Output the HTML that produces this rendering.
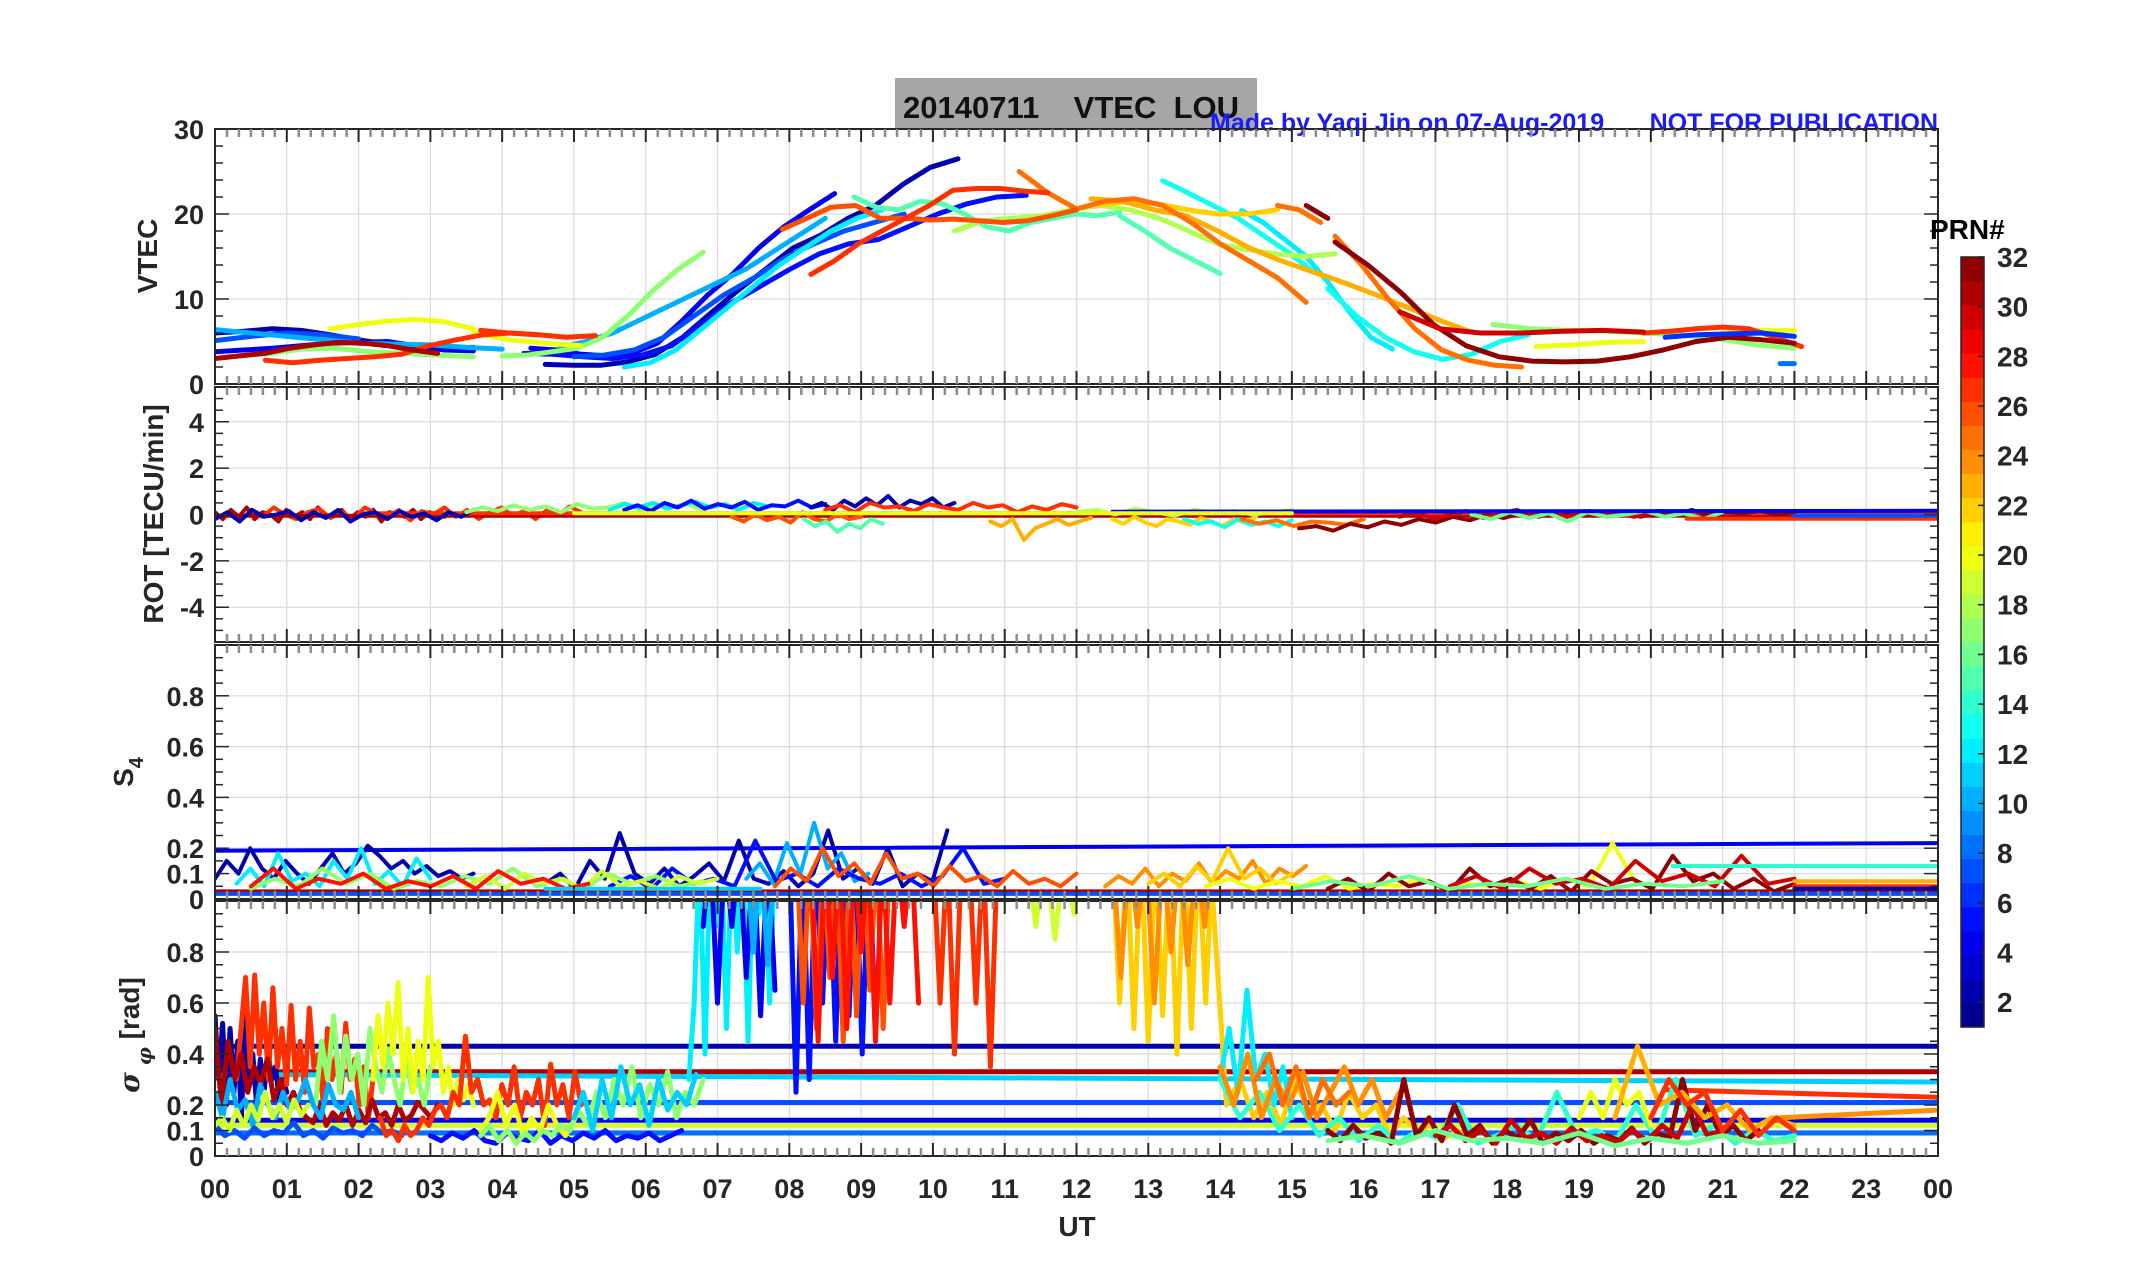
<!DOCTYPE html>
<html><head><meta charset="utf-8"><title>20140711 VTEC LOU</title>
<style>
html,body{margin:0;padding:0;background:#fff;}
svg{display:block;font-family:"Liberation Sans Narrow","Liberation Sans",sans-serif;}
.tk{font-weight:bold;font-size:27px;fill:#262626;}
.ttl{font-weight:bold;font-size:28px;fill:#262626;font-family:"Liberation Sans",sans-serif;}
.cb{font-weight:bold;font-size:28px;fill:#262626;font-family:"Liberation Sans",sans-serif;}
</style></head><body>
<svg id="fig" width="2153" height="1286" viewBox="0 0 2153 1286" xmlns="http://www.w3.org/2000/svg">
<rect x="0" y="0" width="2153" height="1286" fill="#fff"/>
<rect x="895" y="78" width="362" height="52" fill="#a6a6a6"/>
<text x="903" y="118" style="font-weight:bold;font-size:31px;fill:#111;font-family:'Liberation Sans',sans-serif;white-space:pre" xml:space="preserve">20140711    VTEC  LOU</text>
<text x="1210" y="131" style="font-weight:bold;font-size:25px;fill:#1a1aff;font-family:'Liberation Sans',sans-serif">Made by Yaqi Jin on 07-Aug-2019</text>
<text x="1938" y="131" text-anchor="end" style="font-weight:bold;font-size:25px;fill:#1a1aff;font-family:'Liberation Sans',sans-serif">NOT FOR PUBLICATION</text>
<g id="plots"></g>
<text class="ttl" transform="translate(157,256) rotate(-90)" text-anchor="middle">VTEC</text>
<text class="ttl" transform="translate(163,514) rotate(-90)" text-anchor="middle">ROT [TECU/min]</text>
<text class="ttl" transform="translate(133,772) rotate(-90)" text-anchor="middle">S<tspan font-size="20" dy="10">4</tspan></text>
<text class="ttl" transform="translate(139,1035) rotate(-90)" text-anchor="middle"><tspan font-family="'DejaVu Serif',serif" font-style="italic">σ</tspan><tspan font-size="20" dy="12" font-family="'DejaVu Serif',serif" font-style="italic"> φ</tspan><tspan dy="-12"> [rad]</tspan></text>
<text class="ttl" x="1077" y="1236" text-anchor="middle">UT</text>
<text class="cb" x="1930" y="239" style="font-size:28px;fill:#000">PRN#</text>
<g id="cbar"></g>
</svg>
<script>
// ---------- data ----------
const xTickLabels=["00","01","02","03","04","05","06","07","08","09","10","11","12","13","14","15","16","17","18","19","20","21","22","23","00"];
const cbTickLabels=[2,4,6,8,10,12,14,16,18,20,22,24,26,28,30,32];
const vtecTicks=[0,10,20,30];
const rotTicks=[-4,-2,0,2,4];
const s4Ticks=[0,0.1,0.2,0.4,0.6,0.8];
const sigTicks=[0,0.1,0.2,0.4,0.6,0.8];

const vtecPrn=[2,2,4,4,5,7,7,10,10,12,12,13,13,15,15,17,17,17,18,20,20,20,20,22,23,25,25,25,26,27,27,27,27,31,32,32,30,6,8];
const vtecStart=[0,4.6,0,4.4,4.3,0,5.0,0,4.8,5.7,14.3,13.2,15.5,8.9,12.6,0.7,4.0,17.8,10.3,1.6,3.6,18.4,21.0,12.3,12.2,11.2,14.8,15.6,7.9,0.7,3.7,8.3,19.9,0,15.2,15.6,16.5,20.2,21.8];
const vtecEnd=[3.6,10.35,3.6,8.63,11.3,2.0,9.6,4.0,8.5,9.3,16.4,15.3,18.3,12.6,14.0,3.6,6.8,22.0,15.6,3.6,5.1,19.9,22.0,14.8,17.5,15.2,15.4,18.2,12.0,4.5,5.3,11.6,22.1,3.1,15.5,22.0,19.9,22.0,22.0];
const vtecVals=[
[6.0,6.2,6.5,6.3,5.8,5.2,4.7,4.3,4.2,4.3],
[2.3,2.2,2.2,2.6,3.5,5.5,8.3,11,13.5,16,17.5,19.5,21,23.5,25.5,26.5],
[3.8,4.0,4.2,4.5,4.8,4.9,5.0,4.5,4.0,3.9],
[4.2,4.0,3.5,3.3,3.6,4.8,7.5,10.5,13,16,18.5,20.5,22.4],
[3.6,3.5,3.2,3.0,3.4,4.5,7,9.5,11.5,13.5,15.3,16.5,17,18.5,20,21.2,22,22.2],
[5.1,5.6,6.0,5.8,5.3],
[3.2,3.4,4.0,5.5,8,10.5,12.5,14.8,16.5,18,19,20],
[6.4,6.0,5.6,5.2,4.8,4.7,4.6,4.3,4.1],
[4.3,5.0,6.0,7.5,9,10.5,12,13.5,15.5,17.5,19.5],
[2.0,2.5,4,6.5,9,11.5,14,16,18,19.5,20.5],
[20.4,19,17,15,12,8.5,5.5,4.1],
[23.9,22.5,21,19.5,17.5,15.5,13.2],
[11.2,8,5.5,3.8,2.9,3.5,5,5.8],
[22,20.8,20.5,21.5,21.2,20,18.5,18,19,19.5,20,19.8,20.2],
[19.8,18,16,14.5,13],
[3.5,4.1,4.2,3.8,3.6,3.4,3.2],
[3.3,3.4,3.8,4.2,5.5,8,11,13.5,15.5],
[7,6.5,6.3,6.2,6.0,5.8,5.3,4.6,4.2],
[18,19.2,19.5,19.8,20.5,21,20.5,19.5,18,16.5,15.8,15.3,15,15.3],
[6.5,7.0,7.4,7.6,7.3,6.5],
[6.0,5.2,4.8,4.5],
[4.4,4.6,4.9,5.0],
[6,6.3,6.3],
[21,21.5,21.2,20.5,20,20,20.5],
[21.8,21.5,20.5,19.8,18,16,14.5,13.2,11.9,10.5,9,7.5,6.1],
[25,22.5,20.6,21.5,21.8,21,19,16.5,14.5,12.5,9.6],
[21,20.5,19],
[17.4,14,10,6.5,4,2.8,2.2,2.0],
[18.2,19.5,20.8,21,19.5,19.5,19.3,19.4,19.2,19.0,19.2,19.8,20.5],
[2.8,2.5,2.8,3.0,3.2,3.5,4.5,5.2,5.8,6,5.8],
[6.3,6.0,5.8,5.5,5.7],
[12.9,14.5,16.5,18,19.5,21,22.8,23,23,22.7,22.5],
[6,6.2,6.5,6.7,6.5,5.5,4.4],
[3.0,3.3,3.6,4.2,4.6,4.9,4.8,4.5,4.0,3.6],
[21,19.5],
[16.7,14,10.8,7,4.5,3.2,2.7,2.6,2.7,3.2,4,5,5.5,5.2,4.8],
[8.5,6.5,6,6,6.2,6.3,6.1],
[5.5,5.8,5.9,6.0,5.6],
[2.4,2.4]
];

const rotPrn=[31,27,31,27,2,17,12,5,2,26,15,27,23,22,13,25,32,30,16,18,4,20,27,7];
const rotStart=[0,0.5,0,2,0,3.5,5.5,5.7,8.3,7.2,8.2,8.5,10.8,12.5,13.5,14.3,15.1,16.5,17.5,12,12.5,5,20.5,22];
const rotEnd=[3.2,5.1,24,24,3.6,6.8,7.7,8.5,10.3,9.0,9.3,12,12.2,14.5,15,16,22,20,21,15,24,15,24,24];
const rotVals=[
[0.1,-0.2,0.2,-0.1,0.3,-0.2,0.1,0,-0.3,0.2,-0.1,0.1,-0.2,0.3,-0.1,0,0.2,-0.2,0.1,-0.1,0.2,-0.3,0.1,0,-0.1,0.2,-0.2,0.1,0,-0.1],
[0.2,-0.1,0.3,0,-0.2,0.1,0.25,-0.15,0.1,-0.2,0.3,0.05,-0.1,0.2,-0.25,0.15,0,0.3,-0.1,0.2,-0.2,0.1,0.3,-0.05,0.15,-0.2,0.2,0,0.35,0.1],
[-0.05,-0.05],
[0.05,0.05],
[-0.2,0.1,-0.3,0.2,-0.1,0,0.15,-0.25,0.1,-0.15,0.2,-0.3,0,0.1,-0.2,0.15,-0.1,0.05,-0.25,0.1,-0.1,0.2],
[0.1,0.3,0.15,0.4,0.2,0.35,0.1,0.45,0.25,0.3,0.5,0.2,0.4,0.3,0.45,0.2],
[0.2,0.45,0.3,0.5,0.25,0.4,0.55,0.3,0.45,0.2,0.5,0.35],
[0.2,0.4,0.15,0.5,0.3,0.6,0.25,0.45,0.3,0.55,0.2,0.4,0.35,0.6,0.3,0.45],
[0.3,0.5,0.2,0.6,0.35,0.7,0.4,0.8,0.3,0.6,0.45,0.7,0.3,0.5],
[-0.1,-0.3,0,-0.25,-0.1,-0.35,0.1,-0.2,-0.3,0,-0.2,-0.1],
[-0.2,-0.5,-0.3,-0.75,-0.4,-0.6,-0.2,-0.4],
[0.2,0.4,0.1,0.5,0.3,0.35,0.15,0.45,0.3,0.2,0.5,0.3,0.4,0.1,0.35,0.2,0.45,0.3],
[-0.3,-0.5,-0.2,-1.1,-0.6,-0.4,-0.2,-0.45,-0.3,-0.15],
[-0.2,-0.4,-0.1,-0.35,-0.5,-0.2,-0.3,-0.45,-0.15,-0.3,-0.5,-0.2,-0.35,-0.1],
[-0.2,-0.4,-0.3,-0.55,-0.2,-0.45,-0.3,-0.5,-0.25],
[-0.2,-0.4,-0.25,-0.5,-0.3,-0.35,-0.45,-0.2],
[-0.6,-0.5,-0.7,-0.4,-0.55,-0.3,-0.45,-0.2,-0.35,-0.1,-0.25,0,-0.15,0.05,-0.1,0.1,-0.05,0.15,0,0.1,-0.1,0.15,0,0.2,-0.05,0.1,0.05,0.15,0,0.1],
[-0.1,0.1,-0.2,0,0.15,-0.15,0.05,0.2,-0.05,0.1,-0.1,0.15,0,0.1,-0.1,0.05],
[0,-0.2,0.1,-0.15,0.05,-0.3,0.1,-0.1,0,0.15,-0.1,0.05,-0.2,0.1],
[0.1,0.2,0,0.25,0.1,-0.05,0.2,0.05,0.15,0,0.1,0.2],
[0.12,0.16],
[0.05,0.05],
[-0.18,-0.18],
[-0.05,-0.05]
];

const s4Prn=[31,4,2,2,12,10,5,17,19,28,26,24,22,20,32,30,14,23,16,27,2,11,7];
const s4Start=[0,0,0,4.6,0.3,7.4,5.5,0.5,3.5,0.5,7.8,12.4,13.0,13.8,15.5,17.2,20.3,22.0,15.0,22,22,4.6,0];
const s4End=[24,24,3.6,10.2,3.0,9.1,11.0,6.8,7.0,5.2,12.0,15.2,15.0,19.8,22,22,24,24,21,24,24,7.6,24];
const s4Vals=[
[0.03,0.03],
[0.19,0.22],
[0.08,0.15,0.1,0.2,0.12,0.08,0.15,0.1,0.06,0.12,0.18,0.1,0.14,0.21,0.17,0.12,0.15,0.1,0.13,0.09,0.11,0.08,0.1],
[0.06,0.1,0.04,0.15,0.08,0.26,0.1,0.06,0.12,0.05,0.09,0.14,0.07,0.23,0.08,0.06,0.11,0.05,0.1,0.27,0.08,0.12,0.06,0.2,0.05,0.1,0.07,0.27],
[0.06,0.12,0.05,0.18,0.07,0.1,0.05,0.15,0.08,0.2,0.06,0.11,0.05,0.16,0.08],
[0.08,0.14,0.06,0.22,0.1,0.3,0.12,0.18,0.07,0.1],
[0.05,0.09,0.04,0.12,0.06,0.08,0.05,0.23,0.07,0.1,0.05,0.12,0.08,0.06,0.1,0.05,0.09,0.2,0.06,0.08],
[0.04,0.08,0.05,0.12,0.06,0.1,0.04,0.07,0.05,0.09,0.06,0.12,0.05,0.08,0.04,0.1,0.06,0.09,0.05,0.07],
[0.05,0.09,0.04,0.1,0.06,0.08,0.04,0.11,0.05,0.07,0.04,0.09,0.06,0.08],
[0.05,0.12,0.04,0.08,0.06,0.1,0.04,0.07,0.05,0.09,0.04,0.11,0.06,0.08,0.04,0.06],
[0.05,0.12,0.07,0.2,0.09,0.14,0.06,0.18,0.08,0.1,0.05,0.13,0.07,0.09,0.05,0.11,0.06,0.08,0.05,0.1],
[0.05,0.09,0.06,0.12,0.05,0.1,0.07,0.14,0.06,0.11,0.08,0.15,0.06,0.12,0.09,0.13],
[0.06,0.1,0.05,0.13,0.07,0.2,0.08,0.12,0.06,0.1],
[0.05,0.08,0.04,0.07,0.05,0.09,0.04,0.06,0.05,0.08,0.04,0.06,0.05,0.07,0.04,0.08,0.05,0.22,0.06],
[0.04,0.08,0.03,0.1,0.05,0.07,0.03,0.12,0.05,0.08,0.04,0.09,0.03,0.11,0.06,0.08,0.04,0.17,0.07,0.1,0.04,0.08,0.03,0.06],
[0.05,0.09,0.04,0.12,0.06,0.08,0.04,0.15,0.07,0.1,0.05,0.17,0.06,0.08],
[0.13,0.13],
[0.07,0.07],
[0.04,0.07,0.05,0.09,0.04,0.06,0.05,0.08,0.04,0.06,0.05,0.07],
[0.05,0.05],
[0.04,0.04],
[0.04,0.04],
[0.02,0.02]
];

const sigPrn=[2,31,11,7,4,19,8,27,24,2,27,31,17,20,10,7,19,27,5,20,17,11,12,4,10,5,26,28,27,19,22,24,22,12,14,24,25,32,30,20,23,27,16];
const sigStart=[0,0,0,0,0,0,0,20.2,21.8,0,0.3,0,1.4,2.2,0,0,0,2.3,3,3.7,3.7,5,6.6,6.8,7.4,8.0,8.1,8.3,10.0,11.3,12.5,12.5,13.9,14.0,14.0,14.0,14.5,15.5,17.0,19.0,19.5,20.0,15.5];
const sigEnd=[24,24,24,24,24,24,24,24,24,1.0,2.2,3.1,3.0,3.6,2.0,2.6,1.3,5.1,6.5,5.0,6.8,6.7,7.8,7.8,7.8,9.2,9.4,9.8,10.9,12.1,13.9,13.9,17.5,15.0,22.0,16.5,15.8,21.5,21.0,20.0,22.0,22.0,22.0];
const sigVals=[
[0.43,0.43],[0.33,0.33],[0.32,0.29],[0.21,0.21],[0.14,0.14],[0.12,0.12],[0.09,0.09],[0.26,0.23],[0.15,0.18],
[0.55,0.3,0.52,0.2,0.5,0.25,0.45,0.15,0.55,0.3,0.4,0.2,0.38,0.25,0.42,0.3,0.35,0.22,0.3,0.25],
[0.3,0.5,0.7,0.35,0.71,0.4,0.6,0.3,0.66,0.35,0.5,0.28,0.59,0.3,0.45,0.25,0.58,0.35,0.4,0.22,0.5,0.3,0.4,0.25,0.52,0.3,0.38,0.2,0.35,0.15,0.3],
[0.5,0.2,0.45,0.3,0.4,0.25,0.35,0.28,0.38,0.22,0.3,0.2,0.25,0.18,0.15,0.13,0.2,0.12,0.17,0.14,0.2,0.12,0.18,0.13,0.22,0.15,0.17,0.12,0.2,0.14,0.16,0.21,0.18,0.15,0.2],
[0.2,0.45,0.3,0.55,0.25,0.47,0.3,0.4,0.2,0.5,0.35,0.25,0.42,0.3,0.2,0.38,0.25,0.3,0.2,0.35],
[0.3,0.55,0.35,0.6,0.4,0.68,0.3,0.5,0.25,0.45,0.3,0.7,0.35,0.45,0.25,0.35,0.2,0.3,0.22,0.28,0.2],
[0.25,0.15,0.3,0.18,0.22,0.12,0.28,0.2,0.15,0.25,0.18,0.22,0.3,0.2,0.15,0.28,0.2,0.18,0.25,0.15],
[0.12,0.08,0.1,0.07,0.11,0.08,0.1,0.09,0.13,0.08,0.1,0.07,0.11,0.09,0.1,0.08,0.12,0.09,0.1,0.08],
[0.12,0.15,0.1,0.18,0.12,0.2,0.14,0.25,0.15,0.2,0.13,0.22,0.16,0.2],
[0.15,0.08,0.1,0.06,0.12,0.08,0.1,0.15,0.12,0.18,0.2,0.15,0.25,0.2,0.47,0.25,0.3,0.2,0.22,0.15,0.28,0.2,0.35,0.15,0.25,0.2,0.3,0.12,0.36,0.2,0.28,0.15,0.33,0.2],
[0.08,0.06,0.09,0.07,0.1,0.06,0.05,0.09,0.07,0.06,0.1,0.05,0.08,0.06,0.09,0.07,0.1,0.06,0.08,0.07,0.09,0.06,0.08,0.1],
[0.1,0.15,0.25,0.12,0.2,0.08,0.15,0.1,0.2,0.12,0.08,0.14],
[0.08,0.12,0.06,0.1,0.05,0.09,0.06,0.1,0.08,0.12,0.1,0.18,0.12,0.25,0.15,0.3,0.2,0.35,0.15,0.28,0.2,0.33,0.15,0.25,0.2,0.3],
[0.15,0.25,0.1,0.3,0.15,0.35,0.2,0.28,0.12,0.3,0.18,0.25,0.2,0.32],
[0.3,0.6,1.2,0.4,1.2,0.9,1.2,0.5,1.2,0.8,1.2,0.45,1.2,0.95,1.2,0.6,1.2],
[0.9,1.2,0.6,1.2,0.9,1.2,0.7,1.2,0.55,1.2,0.65],
[1.2,0.8,1.2,0.75,1.2],
[1.2,0.25,1.2,0.3,1.2,0.6,1.2,0.45,1.2,0.55,1.2,0.4,1.2,0.5],
[1.2,0.6,1.2,0.5,1.2,0.7,1.2,0.45,1.2,0.55,1.2,0.65,1.2,0.5,1.2],
[1.2,0.45,1.2,0.7,1.2,0.5,1.2,0.8,1.2,0.45,1.2,0.6,1.2,0.9,1.2,0.6],
[1.2,0.6,1.2,0.4,1.2,1.2,0.6,1.2,0.35,1.2],
[1.2,0.9,1.2,0.85,1.2,0.95,1.2],
[1.2,0.6,1.2,0.5,1.2,0.45,1.2,0.55,1.2,0.4,1.2,0.5,1.2,0.6,1.2],
[1.2,0.7,1.2,0.9,1.2,0.6,1.2,0.8,1.2,0.75,1.2,0.9,1.2],
[1.0,0.2,0.3,0.15,0.25,0.12,0.3,0.18,0.2,0.1,0.25,0.15,0.2,0.08,0.15,0.1,0.12,0.07,0.1,0.06],
[0.3,0.5,0.25,0.65,0.3,0.4,0.2,0.35,0.15],
[0.3,0.15,0.25,0.1,0.2,0.08,0.15,0.06,0.12,0.05,0.1,0.07,0.2,0.05,0.08,0.12,0.06,0.25,0.08,0.1,0.06,0.2,0.07,0.3,0.08,0.12,0.05,0.1,0.06,0.08],
[0.35,0.2,0.4,0.15,0.3,0.2,0.33,0.15,0.25,0.35,0.2,0.3,0.15,0.25],
[0.3,0.4,0.2,0.35,0.15,0.3,0.2,0.25],
[0.1,0.06,0.12,0.07,0.09,0.05,0.3,0.08,0.15,0.06,0.2,0.08,0.12,0.05,0.1,0.07,0.14,0.05,0.09,0.06,0.1,0.05,0.08,0.06,0.11,0.05,0.09,0.07,0.3,0.1,0.2,0.08,0.12,0.06,0.1],
[0.08,0.12,0.06,0.1,0.05,0.14,0.07,0.09,0.05,0.11,0.06,0.08,0.05,0.1,0.06,0.12,0.07,0.2,0.08,0.1],
[0.15,0.25,0.15,0.3,0.2,0.25,0.12],
[0.15,0.43,0.2,0.25,0.15,0.2,0.1,0.15,0.12],
[0.15,0.3,0.2,0.25,0.1,0.18,0.08,0.15,0.1],
[0.06,0.08,0.05,0.1,0.06,0.07,0.05,0.09,0.04,0.07,0.05,0.08,0.05,0.06]
];

// ---------- layout & scales ----------
const NS="http://www.w3.org/2000/svg";
const X0=215, X1=1938;
const panels=[
 {name:"vtec",top:129,bot:384,min:0,max:30,major:vtecTicks,grid:[0,10,20,30],minorStep:2,w:5},
 {name:"rot",top:387,bot:642,min:-5.5,max:5.5,major:rotTicks,grid:[-4,-2,0,2,4],minorStep:0.5,w:4},
 {name:"s4",top:645,bot:899,min:0,max:1,major:s4Ticks,grid:[0.1,0.2,0.4,0.6,0.8],minorStep:0.05,w:4},
 {name:"sigma",top:901,bot:1156,min:0,max:1,major:sigTicks,grid:[0.1,0.2,0.4,0.6,0.8],minorStep:0.05,w:5}
];
function xs(h){return X0+h*(X1-X0)/24;}
function ysf(p){return v=>p.bot-(v-p.min)/(p.max-p.min)*(p.bot-p.top);}
function jet(prn){
 const t=(prn-1+0.5)/32;
 const c=v=>Math.round(255*Math.max(0,Math.min(1,v)));
 return `rgb(${c(1.5-Math.abs(4*t-3))},${c(1.5-Math.abs(4*t-2))},${c(1.5-Math.abs(4*t-1))})`;
}
function mk(tag,attrs,parent){const e=document.createElementNS(NS,tag);for(const k in attrs)e.setAttribute(k,attrs[k]);parent.appendChild(e);return e;}

const root=document.getElementById("plots");
const defs=mk("defs",{},root);
const dataSets=[[vtecPrn,vtecStart,vtecEnd,vtecVals],[rotPrn,rotStart,rotEnd,rotVals],[s4Prn,s4Start,s4End,s4Vals],[sigPrn,sigStart,sigEnd,sigVals]];

panels.forEach((p,pi)=>{
 const ys=ysf(p);
 const g=mk("g",{},root);
 
 
 const cp=mk("clipPath",{id:"clip"+pi},defs);
 mk("rect",{x:X0,y:p.top,width:X1-X0,height:p.bot-p.top},cp);
 const grid=mk("g",{stroke:"#dcdcdc","stroke-width":1.3},g);
 
 
 for(let h=1;h<24;h++) mk("line",{x1:xs(h),x2:xs(h),y1:p.top,y2:p.bot},grid);
 p.grid.forEach(v=>{ if(v>p.min&&v<p.max) mk("line",{x1:X0,x2:X1,y1:ys(v),y2:ys(v)},grid);});
 const sg=mk("g",{"clip-path":`url(#clip${pi})`,fill:"none","stroke-linejoin":"round","stroke-linecap":"round"},g);
 const [prn,st,en,vals]=dataSets[pi];
 prn.forEach((pr,i)=>{
  const v=vals[i], n=v.length;
  const pts=v.map((val,k)=>{const h=st[i]+(en[i]-st[i])*(n>1?k/(n-1):0);return xs(h).toFixed(1)+","+ys(val).toFixed(1);}).join(" ");
  const pl=mk("polyline",{points:pts,stroke:jet(pr),"stroke-width":p.w},sg);
  
  
 });
 const ax=mk("g",{stroke:"#262626","stroke-width":2,fill:"none"},g);
 
 
 mk("rect",{x:X0,y:p.top,width:X1-X0,height:p.bot-p.top},ax);
 for(let m=0;m<=144;m++){
  const x=xs(m/6), major=(m%6===0);
  const L=major?13:8, col=major?"#262626":"#8c8c8c";
  mk("line",{x1:x,x2:x,y1:p.top,y2:p.top+L,stroke:col,"stroke-width":major?2:2.5},ax);
  mk("line",{x1:x,x2:x,y1:p.bot,y2:p.bot-L,stroke:col,"stroke-width":major?2:2.5},ax);
 }
 const nMin=Math.round((p.max-p.min)/p.minorStep);
 for(let k=0;k<=nMin;k++){
  const v=p.min+k*p.minorStep; const y=ys(v);
  const isMaj=p.grid.some(gv=>Math.abs(gv-v)<1e-6);
  const L=isMaj?14:8;
  mk("line",{x1:X0,x2:X0+L,y1:y,y2:y,"stroke-width":1.5},ax);
  mk("line",{x1:X1,x2:X1-L,y1:y,y2:y,"stroke-width":1.5},ax);
 }
 p.major.forEach(v=>{
  const t=mk("text",{x:204,y:ys(v)+10,"text-anchor":"end",class:"tk"},g);
  t.textContent=String(v);
  
  
 });
});
xTickLabels.forEach((lab,i)=>{
 const t=mk("text",{x:xs(i),y:1198,"text-anchor":"middle",class:"tk",style:"font-size:27px"},root);
 t.textContent=lab;
 
 
});
const cb=document.getElementById("cbar");
const CB={x:1961,w:23,top:257,bot:1027};
for(let i=1;i<=32;i++){
 const h=(CB.bot-CB.top)/32;
 const r=mk("rect",{x:CB.x,y:CB.bot-i*h,width:CB.w,height:h+0.6,fill:jet(i)},cb);
 
 
}
const cbf=mk("rect",{x:CB.x,y:CB.top,width:CB.w,height:CB.bot-CB.top,fill:"none",stroke:"#262626","stroke-width":1.5},cb);


cbTickLabels.forEach(v=>{
 const y=CB.bot-(v-1)/31*(CB.bot-CB.top);
 mk("line",{x1:CB.x+CB.w,x2:CB.x+CB.w-6,y1:y,y2:y,stroke:"#262626","stroke-width":1.5},cb);
 const t=mk("text",{x:1997,y:y+10,class:"cb"},cb);
 t.textContent=String(v);
 
 
});
</script>
</body></html>
